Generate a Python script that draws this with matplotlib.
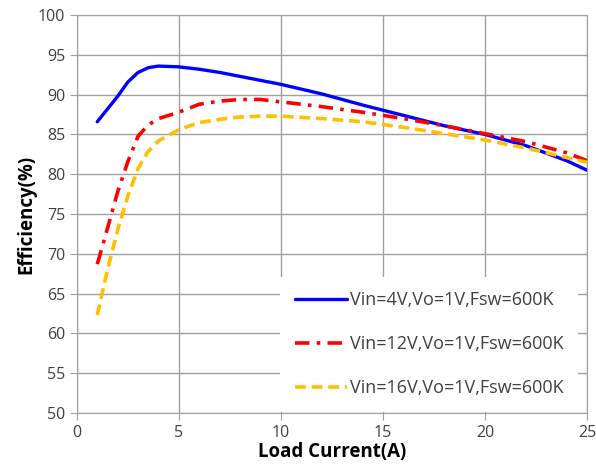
import matplotlib
matplotlib.use("Agg")
import matplotlib.pyplot as plt

# load current (A)
current = [1, 1.5, 2, 2.5, 3, 3.5, 4, 5, 6, 7, 8, 9, 10, 12, 14, 16, 18, 20, 22, 24, 25]

# efficiency (%)
eff_vin4 = [86.6, 88.2, 89.8, 91.6, 92.8, 93.4, 93.6, 93.5, 93.2, 92.8, 92.3, 91.8,
            91.3, 90.1, 88.7, 87.4, 86.1, 85.0, 83.6, 81.7, 80.5]
eff_vin12 = [68.7, 73.2, 77.8, 81.6, 84.8, 86.2, 87.0, 87.8, 88.8, 89.2, 89.4, 89.4,
             89.1, 88.5, 87.8, 87.0, 86.1, 85.1, 84.1, 82.7, 81.7]
eff_vin16 = [62.3, 68.0, 73.0, 77.3, 80.7, 82.9, 84.2, 85.6, 86.5, 86.9, 87.2, 87.3,
             87.3, 87.0, 86.6, 85.9, 85.1, 84.3, 83.3, 82.1, 81.5]

labels = ["Vin=4V,Vo=1V,Fsw=600K",
          "Vin=12V,Vo=1V,Fsw=600K",
          "Vin=16V,Vo=1V,Fsw=600K"]

plt.rcParams['font.family'] = ['Open Sans', 'DejaVu Sans']

fig = plt.figure(figsize=(5.96, 4.74), dpi=100)
ax = fig.add_axes([0.129, 0.129, 0.856, 0.839])

ax.plot(current, eff_vin4, color='#0000FF', lw=2.4, label=labels[0], solid_capstyle='round')
ax.plot(current, eff_vin12, color='#FF0000', lw=2.6, dashes=(4, 2, 1, 2), label=labels[1])
ax.plot(current, eff_vin16, color='#FFC000', lw=2.6, dashes=(3, 1.6), label=labels[2])

ax.set_xlim(0, 25)
ax.set_ylim(50, 100)
ax.set_xticks(range(0, 26, 5))
ax.set_yticks(range(50, 101, 5))
ax.grid(True, color='#A0A0A0', lw=1)
ax.set_axisbelow(True)
for s in ax.spines.values():
    s.set_color('#A0A0A0')
ax.tick_params(colors='#A0A0A0', labelcolor='#404040', labelsize=11.5, length=5)

ax.set_xlabel('Load Current(A)', fontsize=13.5, fontweight='bold', labelpad=1)
ax.set_ylabel('Efficiency(%)', fontsize=13.5, fontweight='bold', labelpad=1)

leg = ax.legend(loc='lower right', bbox_to_anchor=(1.0, -0.02), fontsize=13,
                frameon=True, facecolor='white', edgecolor='none', framealpha=1,
                fancybox=False, handlelength=2.9, handletextpad=0.15, labelspacing=1.45,
                borderpad=0.8)
for t in leg.get_texts():
    t.set_color('#404040')

fig.savefig('out.png', dpi=100)
